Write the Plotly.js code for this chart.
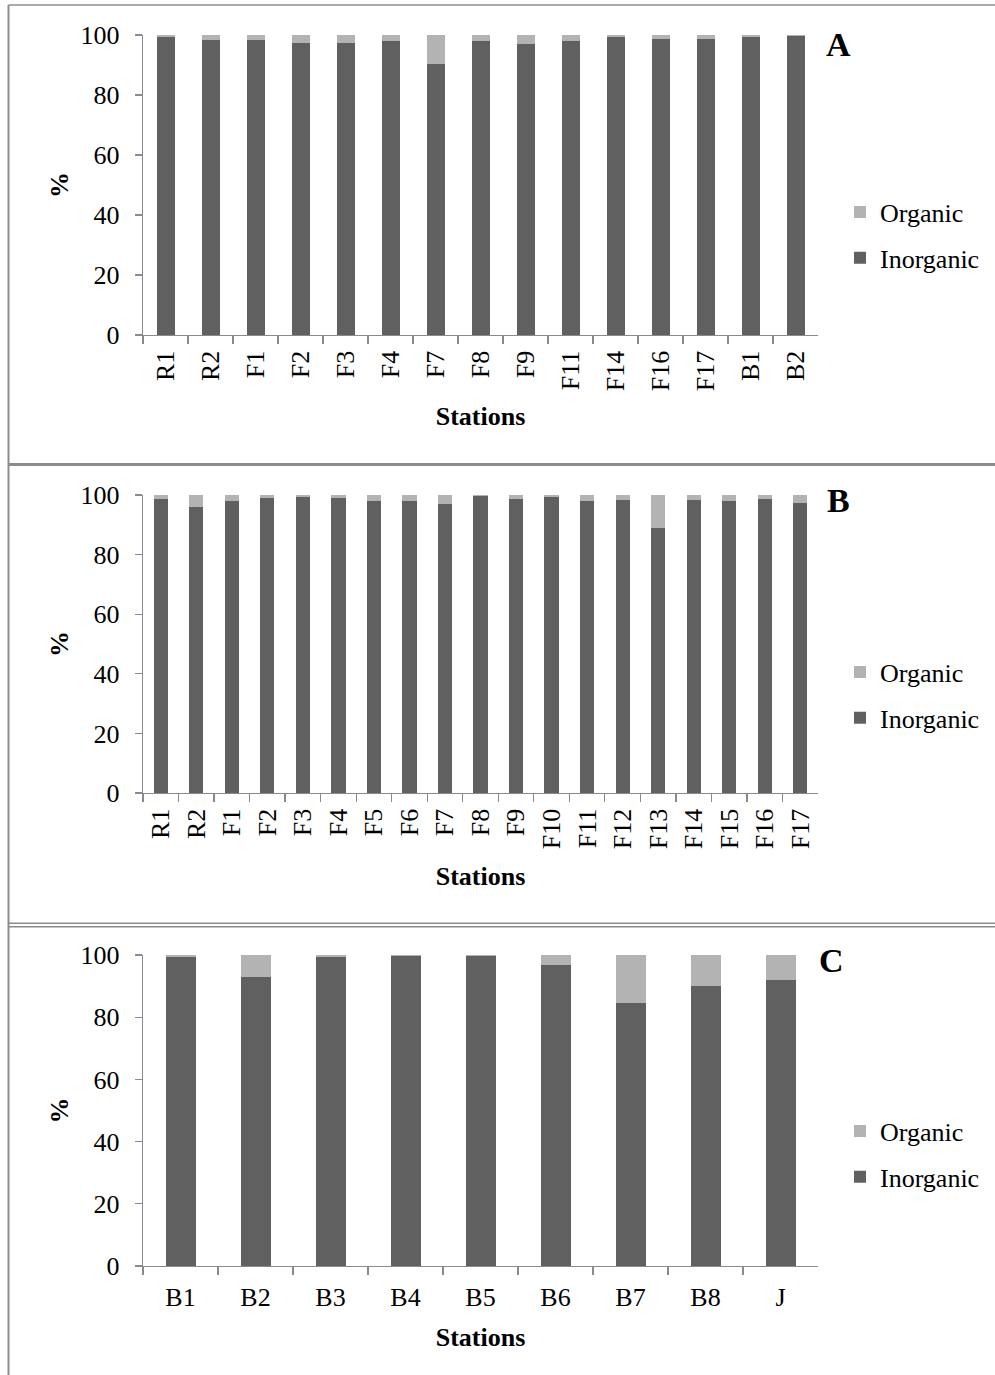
<!DOCTYPE html>
<html><head><meta charset="utf-8">
<script src="https://cdn.plot.ly/plotly-3.0.1.min.js"></script>
<style>html,body{margin:0;padding:0;background:#fff}#chart{width:995px;height:1375px}</style>
</head><body><div id="chart"></div>
<script>
// ---- data ----
const stationsA = ['R1','R2','F1','F2','F3','F4','F7','F8','F9','F11','F14','F16','F17','B1','B2'];
const inorganicA = [99.4, 98.3, 98.3, 97.4, 97.4, 98.1, 90.3, 98.1, 96.9, 98.1, 99.4, 98.7, 98.7, 99.4, 99.6];
const organicA   = [0.6, 1.7, 1.7, 2.6, 2.6, 1.9, 9.7, 1.9, 3.1, 1.9, 0.6, 1.3, 1.3, 0.6, 0.4];

const stationsB = ['R1','R2','F1','F2','F3','F4','F5','F6','F7','F8','F9','F10','F11','F12','F13','F14','F15','F16','F17'];
const inorganicB = [98.7, 96.1, 98.1, 99.0, 99.4, 99.1, 98.1, 98.1, 97.0, 99.8, 98.7, 99.2, 98.1, 98.4, 88.8, 98.4, 98.1, 98.8, 97.4];
const organicB   = [1.3, 3.9, 1.9, 1.0, 0.6, 0.9, 1.9, 1.9, 3.0, 0.2, 1.3, 0.8, 1.9, 1.6, 11.2, 1.6, 1.9, 1.2, 2.6];

const stationsC = ['B1','B2','B3','B4','B5','B6','B7','B8','J'];
const inorganicC = [99.3, 92.9, 99.3, 99.6, 99.7, 96.7, 84.5, 89.9, 92.0];
const organicC   = [0.7, 7.1, 0.7, 0.4, 0.3, 3.3, 15.5, 10.1, 8.0];

const panelLetters = ['A','B','C'];
const yTicks = [0, 20, 40, 60, 80, 100];

// ---- style ----
const W = 995, H = 1375;
const FONT = 'Liberation Serif, Times New Roman, serif';
const colInorg = '#606060', colOrg = '#b3b3b3', axisCol = '#8a8a8a', frameCol = '#8c8c8c';
const px = v => v / W, py = v => 1 - v / H;

function pair(x, inorg, org, n, leg) {
  return [
    {type:'bar', x:x, y:inorg, name:'Inorganic', marker:{color:colInorg, line:{width:0}},
     xaxis:'x'+n, yaxis:'y'+n, legend:leg, legendgroup:'i'+n, legendrank:2},
    {type:'bar', x:x, y:org, name:'Organic', marker:{color:colOrg, line:{width:0}},
     xaxis:'x'+n, yaxis:'y'+n, legend:leg, legendgroup:'o'+n, legendrank:1}
  ];
}
const data = [].concat(
  pair(stationsA, inorganicA, organicA, '', 'legend'),
  pair(stationsB, inorganicB, organicB, '2', 'legend2'),
  pair(stationsC, inorganicC, organicC, '3', 'legend3')
);

function xax(angle, labelGap, titleGap) {
  return {type:'category', domain:[px(143), px(818)],
    showline:true, linecolor:axisCol, linewidth:1.3, mirror:false,
    ticks:'outside', tickson:'boundaries', ticklen:8, tickwidth:1.3, tickcolor:axisCol,
    ticklabelstandoff:labelGap,
    tickangle:angle, tickfont:{size:26, color:'#000'}, showgrid:false, zeroline:false,
    automargin:false, fixedrange:true,
    title:{text:'<b>Stations</b>', font:{size:26, color:'#000'}, standoff:titleGap}};
}
function yax(top, bottom) {
  return {domain:[py(bottom), py(top)], range:[0,100], tickvals:yTicks, ticktext:yTicks.map(String),
    showline:true, linecolor:axisCol, linewidth:1.3,
    ticks:'outside', ticklen:7, tickwidth:1.3, tickcolor:axisCol, ticklabelstandoff:10,
    tickfont:{size:26, color:'#000'}, showgrid:false, zeroline:false, automargin:false, fixedrange:true,
    title:{text:'<b>%</b>', font:{size:26, color:'#000'}, standoff:4}};
}
function leg(yc) {
  return {x:px(840), xanchor:'left', y:py(yc), yanchor:'middle', traceorder:'grouped',
    tracegroupgap:9, itemwidth:30, font:{size:26, color:'#000'}, bgcolor:'rgba(0,0,0,0)', borderwidth:0};
}

const xa1 = xax(-90, 4, 16), xa2 = xax(-90, 4, 18), xa3 = xax(0, 7, 17);
xa1.anchor = 'y'; xa2.anchor = 'y2'; xa3.anchor = 'y3';
const ya1 = yax(35, 335), ya2 = yax(495, 793), ya3 = yax(955, 1266);
ya1.anchor = 'x'; ya2.anchor = 'x2'; ya3.anchor = 'x3';

const shapes = [
  {type:'line', xref:'paper', yref:'paper', x0:px(8.5), x1:1, y0:py(5), y1:py(5), line:{color:frameCol, width:1.5}},
  {type:'line', xref:'paper', yref:'paper', x0:px(8.5), x1:px(8.5), y0:0, y1:py(5), line:{color:frameCol, width:2}},
  {type:'line', xref:'paper', yref:'paper', x0:px(8.5), x1:1, y0:py(464.5), y1:py(464.5), line:{color:frameCol, width:3}},
  {type:'line', xref:'paper', yref:'paper', x0:px(8.5), x1:1, y0:py(923.3), y1:py(923.3), line:{color:frameCol, width:1.6}},
  {type:'line', xref:'paper', yref:'paper', x0:px(8.5), x1:1, y0:py(926.7), y1:py(926.7), line:{color:frameCol, width:1.6}}
];
const letterPos = [[838, 45], [838, 500], [831, 960]];
const annotations = panelLetters.map((t, i) => ({
  text:'<b>'+t+'</b>', xref:'paper', yref:'paper', x:px(letterPos[i][0]), y:py(letterPos[i][1]),
  xanchor:'center', yanchor:'middle', showarrow:false, font:{size:34, color:'#000'}
}));

const layout = {
  width:W, height:H, margin:{l:0, r:0, t:0, b:0},
  paper_bgcolor:'#fff', plot_bgcolor:'#fff',
  font:{family:FONT, color:'#000', size:26},
  barmode:'stack', bargap:0.6, showlegend:true,
  xaxis:xa1, yaxis:ya1, xaxis2:xa2, yaxis2:ya2, xaxis3:xa3, yaxis3:ya3,
  legend:leg(235), legend2:leg(695), legend3:leg(1154),
  shapes:shapes, annotations:annotations
};
Plotly.newPlot('chart', data, layout, {staticPlot:true, displayModeBar:false});
</script>
</body></html>
